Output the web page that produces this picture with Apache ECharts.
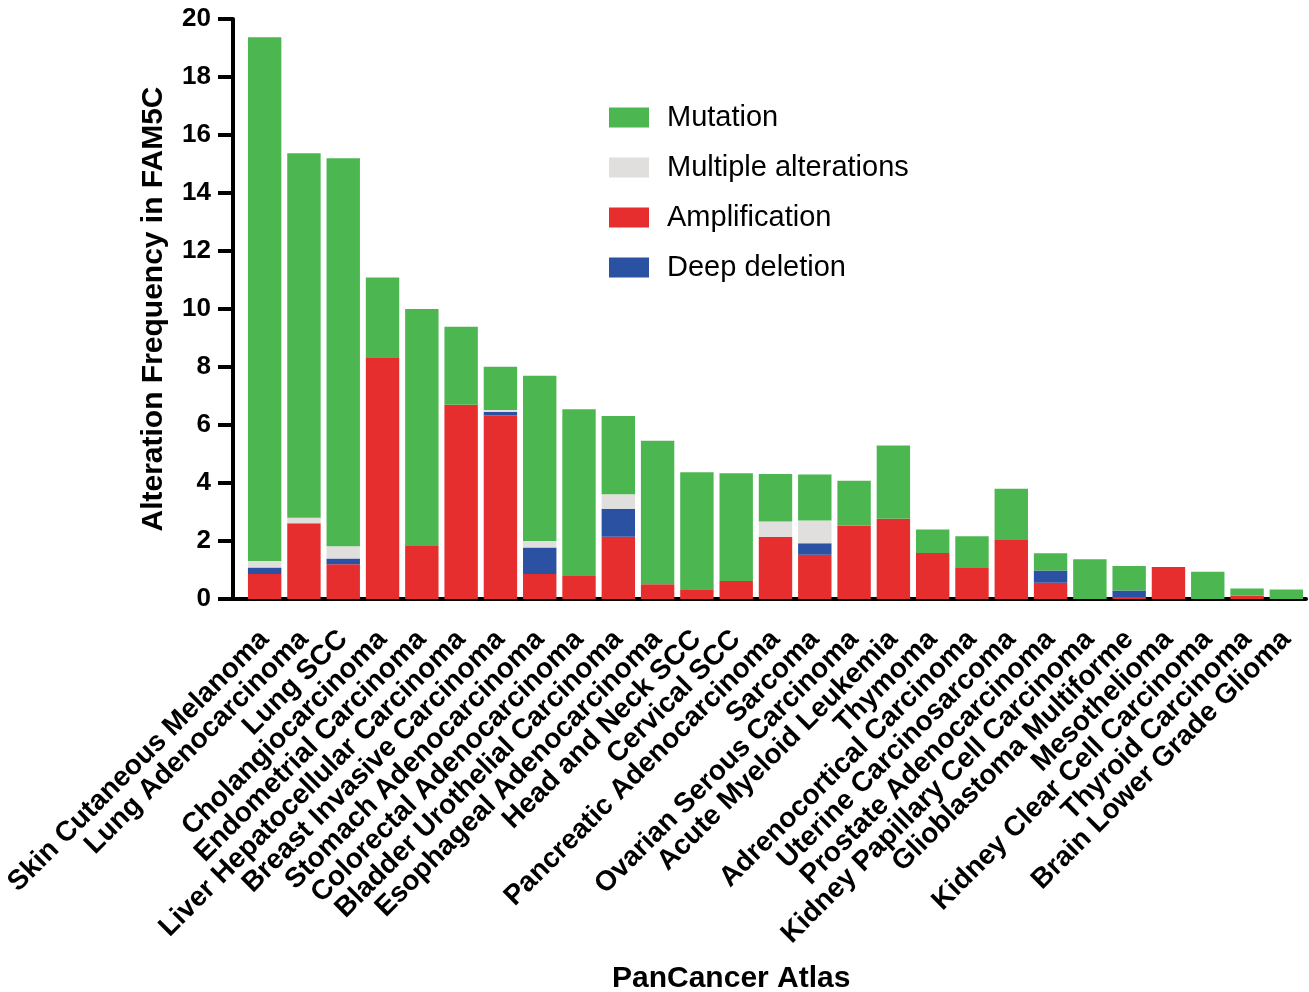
<!DOCTYPE html>
<html>
<head>
<meta charset="utf-8">
<script src="https://cdn.jsdelivr.net/npm/echarts@6/dist/echarts.min.js"></script>
<style>
html,body{margin:0;padding:0;background:#fff;}
#chart{width:1309px;height:992px;}
</style>
</head>
<body>
<div id="chart"></div>
<script>
const categories = [
  'Skin Cutaneous Melanoma','Lung Adenocarcinoma','Lung SCC','Cholangiocarcinoma',
  'Endometrial Carcinoma','Liver Hepatocellular Carcinoma','Breast Invasive Carcinoma',
  'Stomach Adenocarcinoma','Colorectal Adenocarcinoma','Bladder Urothelial Carcinoma',
  'Esophageal Adenocarcinoma','Head and Neck SCC','Cervical SCC','Pancreatic Adenocarcinoma',
  'Sarcoma','Ovarian Serous Carcinoma','Acute Myeloid Leukemia','Thymoma',
  'Adrenocortical Carcinoma','Uterine Carcinosarcoma','Prostate Adenocarcinoma',
  'Kidney Papillary Cell Carcinoma','Glioblastoma Multiforme','Mesothelioma',
  'Kidney Clear Cell Carcinoma','Thyroid Carcinoma','Brain Lower Grade Glioma'
];
const amplification = [0.86,2.61,1.20,8.34,1.85,6.70,6.33,0.86,0.79,2.15,0.51,0.34,0.62,2.14,1.53,2.53,2.77,1.59,1.07,2.06,0.56,0,0.07,1.10,0,0.12,0];
const deepDeletion  = [0.23,0,0.20,0,0,0,0.12,0.92,0,0.96,0,0,0,0,0.39,0,0,0,0,0,0.42,0,0.22,0,0,0,0];
const multipleAlt   = [0.22,0.19,0.42,0,0,0,0.07,0.22,0,0.50,0,0,0,0.53,0.79,0,0,0,0,0,0,0,0,0,0,0,0];
const mutation      = [18.06,12.57,13.38,2.75,8.15,2.69,1.49,5.70,5.75,2.70,4.95,4.03,3.72,1.64,1.58,1.55,2.52,0.81,1.09,1.74,0.60,1.37,0.85,0,0.94,0.24,0.33];
const yTicks = [0,2,4,6,8,10,12,14,16,18,20];

const FONT = 'Liberation Sans, Arial, Helvetica, sans-serif';
const chart = echarts.init(document.getElementById('chart'));

function barSeries(name, data, color) {
  return {
    name: name, type: 'bar', stack: 'total', data: data,
    barCategoryGap: '15%',
    itemStyle: { color: color },
    emphasis: { disabled: true }
  };
}

const option = {
  animation: false,
  backgroundColor: '#fff',
  title: {
    text: 'PanCancer Atlas', left: 607, top: 959,
    textStyle: { fontFamily: FONT, fontWeight: 'bold', fontSize: 30, color: '#000' }
  },
  legend: {
    orient: 'vertical', left: 604, top: 98,
    itemWidth: 40, itemHeight: 20, itemGap: 21,
    icon: 'rect',
    data: ['Mutation','Multiple alterations','Amplification','Deep deletion'],
    textStyle: { fontFamily: FONT, fontSize: 29, color: '#000', padding: [0,0,0,13] }
  },
  grid: { left: 245, right: 3, top: 19, bottom: 393, containLabel: false },
  xAxis: {
    type: 'category', data: categories,
    axisLine: { lineStyle: { color: '#000', width: 4 } },
    axisTick: { alignWithLabel: true, length: 16, lineStyle: { color: '#000', width: 4 } },
    axisLabel: {
      rotate: 45, interval: 0, margin: 36, color: '#000',
      fontFamily: FONT, fontWeight: 'bold', fontSize: 28
    }
  },
  yAxis: {
    type: 'value', min: 0, max: 20, interval: 2, offset: 12,
    name: 'Alteration Frequency in FAM5C', nameLocation: 'middle', nameGap: 64,
    nameTextStyle: { fontFamily: FONT, fontWeight: 'bold', fontSize: 30, color: '#000' },
    splitLine: { show: false },
    axisLine: { show: true, lineStyle: { color: '#000', width: 4 } },
    axisTick: { show: true, length: 15, lineStyle: { color: '#000', width: 4 } },
    axisLabel: {
      margin: 22, color: '#000', fontFamily: FONT, fontWeight: 'bold', fontSize: 26,
      formatter: function (v) { return yTicks.indexOf(v) >= 0 ? String(v) : ''; }
    }
  },
  series: [
    barSeries('Amplification', amplification, '#E62E2F'),
    barSeries('Deep deletion', deepDeletion, '#2B51A3'),
    barSeries('Multiple alterations', multipleAlt, '#E0DFDD'),
    barSeries('Mutation', mutation, '#4CB751')
  ]
};
chart.setOption(option);

// extend x axis line leftwards to meet the offset y axis
const p0 = chart.convertToPixel({ gridIndex: 0 }, [0, 0]);
const gridLeft = 245, yAxisX = gridLeft - 12;
chart.setOption({
  graphic: [{
    type: 'line', silent: true,
    shape: { x1: yAxisX - 2, y1: p0[1], x2: gridLeft + 1, y2: p0[1] },
    style: { stroke: '#000', lineWidth: 4 }
  }]
});
</script>
</body>
</html>
